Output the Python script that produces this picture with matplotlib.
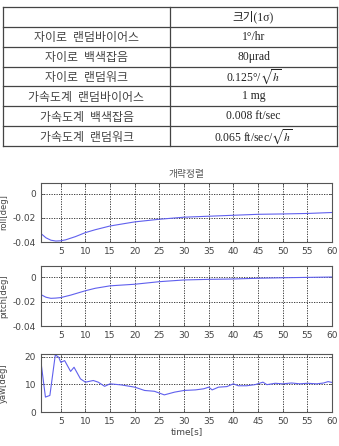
import numpy as np
import matplotlib
matplotlib.use('Agg')
import matplotlib.pyplot as plt

plt.rcParams['mathtext.fontset'] = 'stix'

# table contents
row_names = ['', '자이로  랜덤바이어스', '자이로  백색잡음', '자이로  랜덤워크',
             '가속도계  랜덤바이어스', '가속도계  백색잡음', '가속도계  랜덤워크']
row_values = ['크기(1σ)', '1°/hr', '80μrad', r'0.125°/$\sqrt{h}$',
              '1 mg', '0.008 ft/sec', r'0.065 ft/sec/$\sqrt{h}$']

# time-series
roll_t = [1, 2, 3, 4, 5, 6, 8, 10, 12, 15, 20, 25, 30, 35, 40, 45, 50, 55, 60]
roll = [-0.0330, -0.0365, -0.0385, -0.0392, -0.0390, -0.0382, -0.0355, -0.0322,
        -0.0298, -0.0267, -0.0233, -0.0211, -0.0194, -0.0186, -0.0178, -0.0170,
        -0.0167, -0.0163, -0.0155]

pitch_t = [1, 2, 3, 4, 5, 7, 10, 12, 15, 20, 25, 30, 35, 40, 45, 50, 55, 60]
pitch = [-0.0144, -0.0165, -0.0174, -0.0172, -0.0168, -0.0148, -0.0112, -0.0092,
         -0.0072, -0.0059, -0.0038, -0.0024, -0.0019, -0.0016, -0.0010, -0.0006,
         -0.0003, 0.0]

yaw_t = [1, 1.9, 2.8, 3.9, 4.6, 5, 5.8, 7, 7.7, 9, 10, 11.6, 12.6, 13.9, 15, 17.3,
         20, 22, 24, 26, 28.1, 30, 32.3, 34, 35, 35.7, 37, 38.7, 40, 41, 42.7,
         44.4, 46, 46.8, 48.5, 50, 51.8, 53.5, 55, 56.9, 58.3, 59.2, 60]
yaw = [18.0, 5.4, 6.0, 20.7, 19.8, 18.0, 18.6, 14.7, 16.2, 12.0, 10.8, 11.4, 10.8,
       9.3, 10.2, 9.8, 9.0, 7.8, 7.5, 6.2, 7.2, 7.8, 8.0, 8.4, 9.0, 8.0, 9.0, 9.2,
       10.2, 9.5, 9.5, 9.9, 10.8, 9.9, 10.4, 10.2, 10.5, 10.2, 10.4, 10.2, 10.5,
       11.0, 10.7]

W, H = 339, 446
fig = plt.figure(figsize=(W / 100, H / 100), dpi=100)

# ---- table (pixel coordinates) ----
tab = fig.add_axes([0, 0, 1, 1])
tab.set_xlim(0, W)
tab.set_ylim(H, 0)
tab.axis('off')
x0, x1, xm = 3, 337, 170
y0, y1 = 7, 146
nrow = len(row_names)
rh = (y1 - y0) / nrow
lc = '#444444'
for i in range(nrow + 1):
    tab.plot([x0, x1], [y0 + i * rh] * 2, color=lc, lw=0.9)
for xx in (x0, xm, x1):
    tab.plot([xx, xx], [y0, y1], color=lc, lw=0.9)
fam = ['Liberation Serif', 'Noto Sans CJK KR']
for i in range(nrow):
    yc = y0 + (i + 0.5) * rh
    tab.text((x0 + xm) / 2, yc, row_names[i], ha='center', va='center_baseline',
             fontsize=8.6, family=fam, color='#444444')
    tab.text((xm + x1) / 2, yc, row_values[i], ha='center', va='center',
             fontsize=8.4, family=fam, color='#222222')

# ---- plots ----
left, width = 41 / W, 291 / W
def mkax(top, bottom):
    return fig.add_axes([left, 1 - bottom / H, width, (bottom - top) / H])

ax1 = mkax(183, 242)
ax2 = mkax(266, 326)
ax3 = mkax(354, 412)

lcol = '#6060ee'
ax1.plot(roll_t, roll, color=lcol, lw=0.8)
ax2.plot(pitch_t, pitch, color=lcol, lw=0.8)
ax3.plot(yaw_t, yaw, color=lcol, lw=0.8)

ax1.set_ylim(-0.04, 0.009)
ax2.set_ylim(-0.04, 0.009)
ax3.set_ylim(0, 21)
ax1.set_yticks([-0.04, -0.02, 0])
ax2.set_yticks([-0.04, -0.02, 0])
ax1.set_yticklabels(['-0.04', '-0.02', '0'])
ax2.set_yticklabels(['-0.04', '-0.02', '0'])
ax3.set_yticks([0, 10, 20])

for ax, lab in zip((ax1, ax2, ax3), ('roll[deg]', 'pitch[deg]', 'yaw[deg]')):
    ax.set_xlim(1, 60)
    ax.set_xticks(np.arange(5, 61, 5))
    ax.grid(True, color='#222222', ls=(0, (1.5, 1.5)), lw=0.6)
    ax.tick_params(labelsize=6.5, colors='#444444', direction='in', length=2,
                   width=0.5, top=True, right=True)
    for s in ax.spines.values():
        s.set_color('#555555')
        s.set_linewidth(0.8)
    ax.set_ylabel(lab, fontsize=6, color='#444444')
    ax.yaxis.set_label_coords(-0.113, 0.5)

ax1.set_title('개략정렬', family=['Noto Sans CJK KR', 'DejaVu Sans'],
              fontsize=7, color='#555555', pad=4)
ax3.set_xlabel('time[s]', fontsize=6.5, color='#444444', labelpad=1)

fig.savefig('out.png', dpi=100)
